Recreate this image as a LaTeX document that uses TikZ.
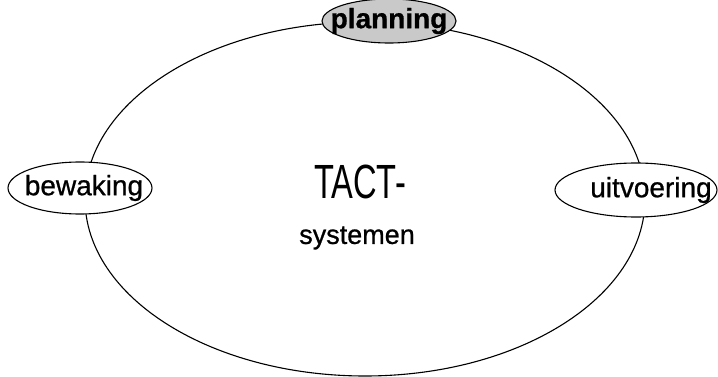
\documentclass[tikz,border=0pt]{standalone}
\usepackage{fontspec}
\setmainfont{Liberation Sans}[FakeBold=0.8]
\newfontfamily\tactfont[FakeStretch=0.68]{Liberation Sans}
\usetikzlibrary{shapes.geometric}
\tikzset{
  lijn/.style={line width=1.1pt},
  fase/.style={draw, ellipse, lijn, fill=white, inner xsep=-40pt, inner ysep=0pt,
    font=\fontsize{28}{30}\selectfont},
}
\begin{document}
\begin{tikzpicture}[x=1pt,y=-1pt]
  \useasboundingbox (0,0) rectangle (718,377);
  % de grote cyclus
  \node[draw, ellipse, lijn, minimum width=560pt, minimum height=354pt] (cyclus) at (365,199) {};
  \node[font=\tactfont\fontsize{48}{50}\selectfont] (tact) at (360,182) {TACT-};
  \node[font=\fontsize{27}{30}\selectfont] (systemen) at (357,238) {systemen};
  % de drie fasen
  \node[fase, fill=gray!42, minimum width=134pt, minimum height=44pt, font=\bfseries\fontsize{28}{30}\selectfont] (planning) at (389,21) {planning};
  \node[fase, minimum width=144pt, minimum height=52pt] (bewaking) at (80,188) {\hspace*{8pt}bewaking};
  \node[fase, minimum width=162pt, minimum height=54pt] (uitvoering) at (636,190) {\hspace*{30pt}uitvoering};
\end{tikzpicture}
\end{document}
